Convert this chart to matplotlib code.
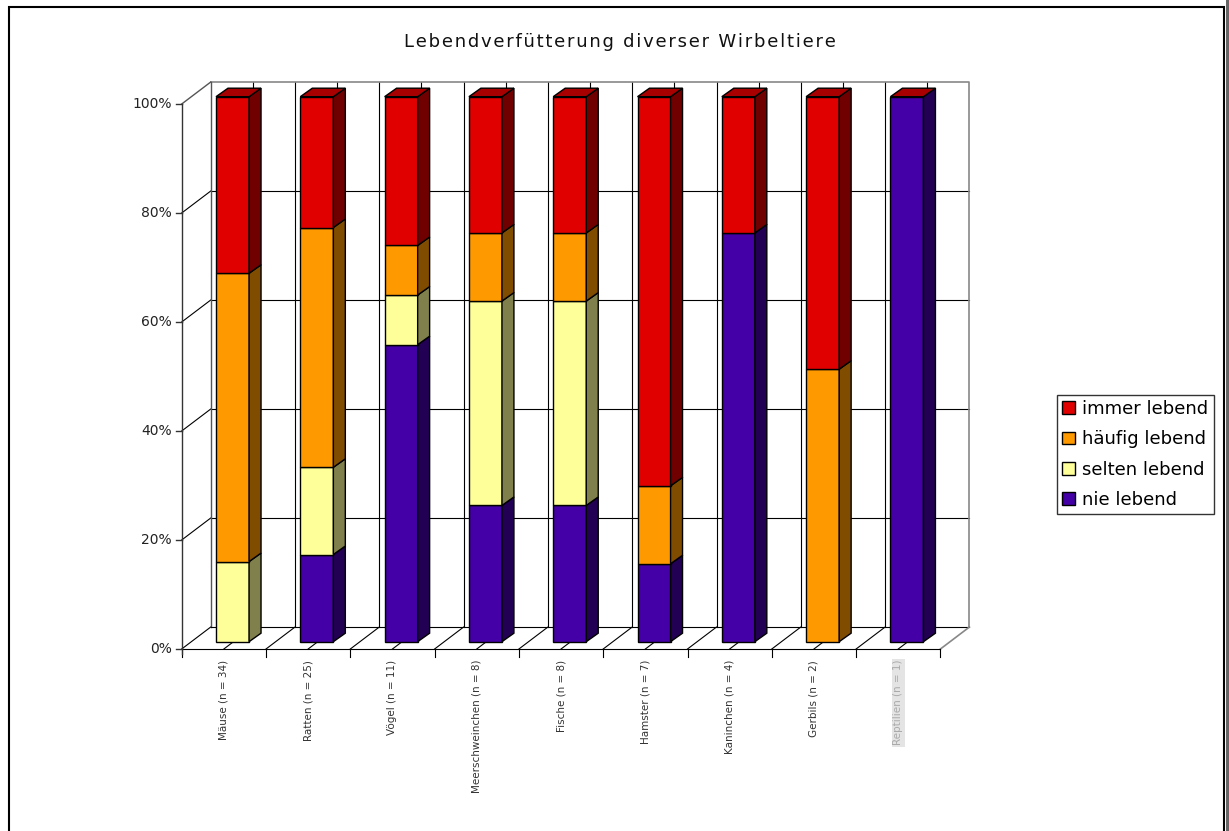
import numpy as np
import matplotlib
matplotlib.use('Agg')
import matplotlib.pyplot as plt
from matplotlib.patches import Polygon, Rectangle, Patch

# data: share of each answer per animal group (percent)
categories = ['Mäuse (n = 34)', 'Ratten (n = 25)', 'Vögel (n = 11)',
              'Meerschweinchen (n = 8)', 'Fische (n = 8)', 'Hamster (n = 7)',
              'Kaninchen (n = 4)', 'Gerbils (n = 2)', 'Reptilien (n = 1)']
nie_lebend = [0.0, 16.0, 54.5, 25.0, 25.0, 14.3, 75.0, 0.0, 100.0]
selten_lebend = [14.7, 16.0, 9.1, 37.5, 37.5, 0.0, 0.0, 0.0, 0.0]
haeufig_lebend = [52.9, 44.0, 9.1, 12.5, 12.5, 14.3, 0.0, 50.0, 0.0]
immer_lebend = [32.4, 24.0, 27.3, 25.0, 25.0, 71.4, 25.0, 50.0, 0.0]
y_ticks = [0, 20, 40, 60, 80, 100]
title = 'Lebendverfütterung diverser Wirbeltiere'

series = [('nie lebend', nie_lebend), ('selten lebend', selten_lebend),
          ('häufig lebend', haeufig_lebend), ('immer lebend', immer_lebend)]
# front, side colours of each series
colors = {'immer lebend': ('#e00000', '#700000'),
          'häufig lebend': ('#ff9900', '#804c00'),
          'selten lebend': ('#ffff99', '#80804c'),
          'nie lebend': ('#4400a6', '#220053')}
top_color = '#a80000'

W, H = 1229, 831
fig = plt.figure(figsize=(W / 100, H / 100), dpi=100)
ax = fig.add_axes([0, 0, 1, 1])
# one category = 84.3 px, 1 % = 5.45 px, bar plane starts at px 191.4 / 641.7
ax.set_xlim(-191.4 / 84.3, (W - 191.4) / 84.3)
ax.set_ylim(-(H - 641.7) / 5.45, 641.7 / 5.45)
ax.axis('off')

n = len(categories)
fx, fy = -0.115, -1.34     # front plane offset
bx, by = 0.229, 2.69       # back wall offset
ddx, ddy = 0.142, 1.56     # bar depth
b0, bw = 0.292, 0.392      # bar left edge and width inside a category
grey = '#888888'
lw = 0.8

# back wall
for y in y_ticks[1:-1]:
    ax.plot([bx, bx + n], [y + by, y + by], color='black', lw=lw, zorder=1)
    ax.plot([fx, bx], [y + fy, y + by], color='black', lw=lw, zorder=1)
for k in range(1, 2 * n):
    ax.plot([bx + k / 2, bx + k / 2], [by, 100 + by], color='black', lw=lw, zorder=1)
ax.plot([bx, bx + n, bx + n], [100 + by, 100 + by, by], color=grey, lw=1.2, zorder=1)
ax.plot([fx, bx], [100 + fy, 100 + by], color='#555555', lw=1.0, zorder=1)
ax.plot([bx, bx], [by, 100 + by], color='#555555', lw=1.0, zorder=1)
ax.plot([bx, bx + n], [by, by], color='black', lw=lw, zorder=1)

# floor
for k in range(0, 2 * n):
    ax.plot([fx + k / 2, bx + k / 2], [fy, by], color='black', lw=lw, zorder=1)
ax.plot([fx + n, bx + n], [fy, by], color=grey, lw=1.2, zorder=1)
ax.plot([fx, fx + n], [fy, fy], color='black', lw=lw, zorder=1)
for k in range(n + 1):
    ax.plot([fx + k, fx + k], [fy, fy - 1.5], color='black', lw=lw, zorder=1)

# y axis
ax.plot([fx, fx], [fy - 1.0, 100 + fy], color='#333333', lw=1.0, zorder=1)
for y in y_ticks:
    ax.plot([fx - 0.07, fx], [y + fy, y + fy], color='#333333', lw=1.0, zorder=1)
    ax.text(fx - 0.12, y + fy, f'{y}%', ha='right', va='center',
            fontsize=10, color='#222222')

# stacked bars with depth
for i in range(n):
    x0 = i + b0
    x1 = x0 + bw
    bottom = 0.0
    for name, vals in series:
        v = vals[i]
        if v <= 0:
            continue
        front, side = colors[name]
        top = bottom + v
        ax.add_patch(Rectangle((x0, bottom), bw, v, facecolor=front,
                               edgecolor='black', lw=1.0, zorder=3))
        ax.add_patch(Polygon([(x1, bottom), (x1 + ddx, bottom + ddy),
                              (x1 + ddx, top + ddy), (x1, top)],
                             closed=True, facecolor=side, edgecolor='black',
                             lw=1.0, zorder=3))
        bottom = top
    ax.add_patch(Polygon([(x0, bottom), (x1, bottom), (x1 + ddx, bottom + ddy),
                          (x0 + ddx, bottom + ddy)], closed=True,
                         facecolor=top_color, edgecolor='black', lw=1.0, zorder=3))

# category labels
for i, lab in enumerate(categories):
    last = i == n - 1
    ax.text(fx + i + 0.5, fy - 2.0, lab, rotation=90, ha='center', va='top',
            fontsize=7.5, color='#aaaaaa' if last else '#333333',
            bbox=dict(facecolor='#e4e4e4', edgecolor='none', pad=1) if last else None)

# title, slightly letter-spaced
fig.text(620 / W, 1 - 42 / H, '\u200a'.join(title),
         ha='center', va='center', fontsize=13, color='#111111')

# legend
handles = [Patch(facecolor=colors[name][0], edgecolor='black', lw=1.0, label=name)
           for name, _ in series[::-1]]
leg = fig.legend(handles=handles, loc='center left',
                 bbox_to_anchor=(1057 / W, 1 - 454.5 / H), fontsize=13,
                 frameon=True, fancybox=False, edgecolor='black',
                 handlelength=0.7, handleheight=0.7, handletextpad=0.4,
                 labelspacing=0.68, borderpad=0.3, borderaxespad=0)
leg.get_frame().set_linewidth(1.0)

# figure frame
fig.patches.append(Rectangle((9 / W, -0.01), (1224 - 9) / W, 1.01 - 7 / H,
                             transform=fig.transFigure, fill=False,
                             edgecolor='black', lw=1.5))
fig.patches.append(Rectangle((1226 / W, 0), 3 / W, 1, transform=fig.transFigure,
                             facecolor='#666666', edgecolor='none'))

fig.savefig('out.png', dpi=100)
